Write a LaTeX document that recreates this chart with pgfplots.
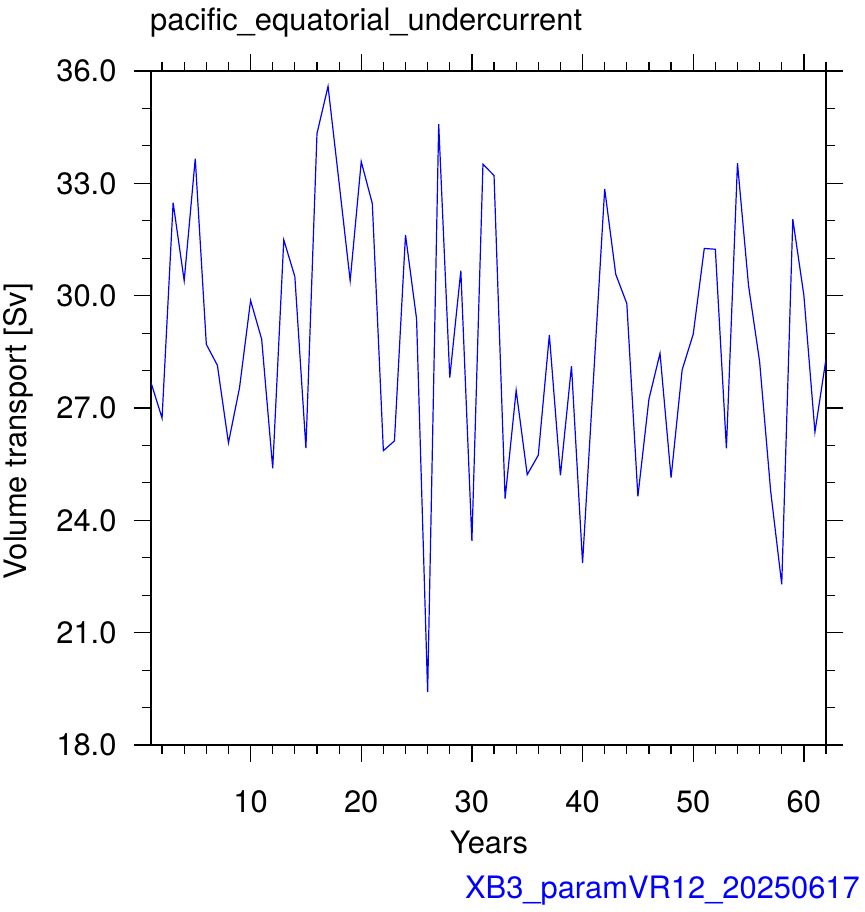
\documentclass[border=0pt]{standalone}
\usepackage{pgfplots}
\pgfplotsset{compat=1.18}
\usepackage{fontspec}
\setmainfont{TeX Gyre Heros}
\pgfplotstableread{
x y
1 27.68
2 26.73
3 32.48
4 30.40
5 33.66
6 28.70
7 28.14
8 26.07
9 27.54
10 29.87
11 28.84
12 25.39
13 31.49
14 30.51
15 25.93
16 34.33
17 35.59
18 33.01
19 30.40
20 33.58
21 32.46
22 25.86
23 26.12
24 31.62
25 29.38
26 19.41
27 34.58
28 27.81
29 30.67
30 23.45
31 33.51
32 33.21
33 24.58
34 27.47
35 25.22
36 25.74
37 28.95
38 25.20
39 28.12
40 22.86
41 27.85
42 32.85
43 30.57
44 29.79
45 24.64
46 27.24
47 28.46
48 25.14
49 28.02
50 28.97
51 31.26
52 31.24
53 25.92
54 33.54
55 30.27
56 28.24
57 24.78
58 22.29
59 32.04
60 30.01
61 26.36
62 28.31
}\datatable
\begin{document}
\begin{tikzpicture}
\begin{axis}[
  at={(0,0)}, anchor=south west,
  scale only axis, width=675bp, height=674bp,
  xmin=1, xmax=62, ymin=18, ymax=36,
  xtick={10,20,...,60}, minor xtick={2,4,...,62},
  ytick={18,21,...,36}, minor ytick={18,...,36},
  tick align=outside,
  major tick length=17bp, minor tick length=9bp,
  every tick/.style={black, line width=1.4bp},
  every minor tick/.style={black, line width=1.2bp},
  axis line style={line width=2bp},
  /pgf/number format/assume math mode=true,
  tick label style={font=\fontsize{31}{37}\selectfont},
  yticklabel style={xshift=-14bp, /pgf/number format/.cd, fixed, fixed zerofill, precision=1},
  xticklabel style={yshift=-25bp, /pgf/number format/.cd, fixed, precision=0},
]
\addplot[color=blue, line width=1.2bp] table[x=x, y=y] {\datatable};
\end{axis}
\node[anchor=base west, font=\fontsize{31}{37}\selectfont, inner sep=0pt] at (-1bp,714bp) {pacific\_equatorial\_undercurrent};
\node[anchor=base, font=\fontsize{31}{37}\selectfont, inner sep=0pt] at (338bp,-108bp) {Years};
\node[anchor=base, rotate=90, font=\fontsize{31}{37}\selectfont, inner sep=0pt] at (-124bp,314bp) {Volume transport [Sv]};
\node[anchor=base east, font=\fontsize{31}{37}\selectfont, text=blue, inner sep=0pt] at (709bp,-153bp) {XB3\_paramVR12\_20250617};
\pgfresetboundingbox
\path[use as bounding box] (-151bp,-167bp) rectangle (714bp,745bp);
\end{tikzpicture}
\end{document}
